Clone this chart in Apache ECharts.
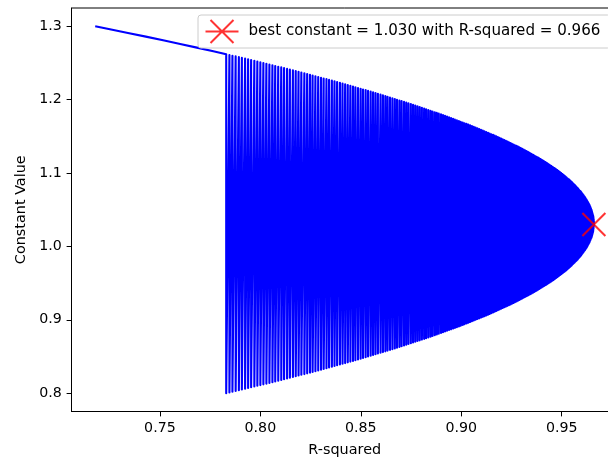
<!DOCTYPE html>
<html><head><meta charset="utf-8">
<script src="https://cdn.jsdelivr.net/npm/echarts@6/dist/echarts.min.js"></script>
<style>html,body{margin:0;padding:0;background:#fff;overflow:hidden;width:608px;height:462px}#c{width:618px;height:462px}</style>
</head><body><div id="c"></div>
<script>
// Constants below the best value (lower branch) and their R-squared
const lowerConstants = [
0.800,0.801,0.802,0.803,0.804,0.805,0.806,0.807,0.808,0.809,
0.810,0.811,0.812,0.813,0.814,0.815,0.816,0.817,0.818,0.819,
0.820,0.821,0.822,0.823,0.824,0.825,0.826,0.827,0.828,0.829,
0.830,0.831,0.832,0.833,0.834,0.835,0.836,0.837,0.838,0.839,
0.840,0.841,0.842,0.843,0.844,0.845,0.846,0.847,0.848,0.849,
0.850,0.851,0.852,0.853,0.854,0.855,0.856,0.857,0.858,0.859,
0.860,0.861,0.862,0.863,0.864,0.865,0.866,0.867,0.868,0.869,
0.870,0.871,0.872,0.873,0.874,0.875,0.876,0.877,0.878,0.879,
0.880,0.881,0.882,0.883,0.884,0.885,0.886,0.887,0.888,0.889,
0.890,0.891,0.892,0.893,0.894,0.895,0.896,0.897,0.898,0.899,
0.900,0.901,0.902,0.903,0.904,0.905,0.906,0.907,0.908,0.909,
0.910,0.911,0.912,0.913,0.914,0.915,0.916,0.917,0.918,0.919,
0.920,0.921,0.922,0.923,0.924,0.925,0.926,0.927,0.928,0.929,
0.930,0.931,0.932,0.933,0.934,0.935,0.936,0.937,0.938,0.939,
0.940,0.941,0.942,0.943,0.944,0.945,0.946,0.947,0.948,0.949,
0.950,0.951,0.952,0.953,0.954,0.955,0.956,0.957,0.958,0.959,
0.960,0.961,0.962,0.963,0.964,0.965,0.966,0.967,0.968,0.969,
0.970,0.971,0.972,0.973,0.974,0.975,0.976,0.977,0.978,0.979,
0.980,0.981,0.982,0.983,0.984,0.985,0.986,0.987,0.988,0.989,
0.990,0.991,0.992,0.993,0.994,0.995,0.996,0.997,0.998,0.999,
1.000,1.001,1.002,1.003,1.004,1.005,1.006,1.007,1.008,1.009,
1.010,1.011,1.012,1.013,1.014,1.015,1.016,1.017,1.018,1.019,
1.020,1.021,1.022,1.023,1.024,1.025,1.026,1.027,1.028,1.029,
1.030];
const lowerRSquared = [
0.7830,0.7846,0.7861,0.7877,0.7893,0.7908,0.7924,0.7939,0.7954,0.7970,
0.7985,0.8000,0.8015,0.8030,0.8045,0.8060,0.8074,0.8089,0.8104,0.8118,
0.8133,0.8147,0.8162,0.8176,0.8190,0.8204,0.8219,0.8233,0.8247,0.8260,
0.8274,0.8288,0.8302,0.8315,0.8329,0.8342,0.8356,0.8369,0.8382,0.8396,
0.8409,0.8422,0.8435,0.8448,0.8461,0.8473,0.8486,0.8499,0.8511,0.8524,
0.8536,0.8549,0.8561,0.8573,0.8585,0.8598,0.8610,0.8622,0.8633,0.8645,
0.8657,0.8669,0.8680,0.8692,0.8703,0.8715,0.8726,0.8737,0.8749,0.8760,
0.8771,0.8782,0.8793,0.8804,0.8815,0.8825,0.8836,0.8847,0.8857,0.8868,
0.8878,0.8888,0.8899,0.8909,0.8919,0.8929,0.8939,0.8949,0.8959,0.8968,
0.8978,0.8988,0.8997,0.9007,0.9016,0.9026,0.9035,0.9044,0.9053,0.9062,
0.9071,0.9080,0.9089,0.9098,0.9107,0.9115,0.9124,0.9133,0.9141,0.9149,
0.9158,0.9166,0.9174,0.9182,0.9190,0.9198,0.9206,0.9214,0.9222,0.9230,
0.9237,0.9245,0.9252,0.9260,0.9267,0.9275,0.9282,0.9289,0.9296,0.9303,
0.9310,0.9317,0.9324,0.9331,0.9337,0.9344,0.9350,0.9357,0.9363,0.9370,
0.9376,0.9382,0.9388,0.9394,0.9400,0.9406,0.9412,0.9418,0.9424,0.9429,
0.9435,0.9440,0.9446,0.9451,0.9457,0.9462,0.9467,0.9472,0.9477,0.9482,
0.9487,0.9492,0.9497,0.9501,0.9506,0.9511,0.9515,0.9520,0.9524,0.9528,
0.9532,0.9537,0.9541,0.9545,0.9549,0.9552,0.9556,0.9560,0.9564,0.9567,
0.9571,0.9574,0.9578,0.9581,0.9584,0.9587,0.9591,0.9594,0.9597,0.9599,
0.9602,0.9605,0.9608,0.9610,0.9613,0.9616,0.9618,0.9620,0.9623,0.9625,
0.9627,0.9629,0.9631,0.9633,0.9635,0.9637,0.9639,0.9640,0.9642,0.9643,
0.9645,0.9646,0.9648,0.9649,0.9650,0.9651,0.9652,0.9653,0.9654,0.9655,
0.9656,0.9657,0.9657,0.9658,0.9658,0.9659,0.9659,0.9659,0.9660,0.9660,
0.9660];
// Constants at and above the best value (upper branch) and their R-squared
const upperConstants = [
1.031,1.032,1.033,1.034,1.035,1.036,1.037,1.038,1.039,
1.040,1.041,1.042,1.043,1.044,1.045,1.046,1.047,1.048,1.049,
1.050,1.051,1.052,1.053,1.054,1.055,1.056,1.057,1.058,1.059,
1.060,1.061,1.062,1.063,1.064,1.065,1.066,1.067,1.068,1.069,
1.070,1.071,1.072,1.073,1.074,1.075,1.076,1.077,1.078,1.079,
1.080,1.081,1.082,1.083,1.084,1.085,1.086,1.087,1.088,1.089,
1.090,1.091,1.092,1.093,1.094,1.095,1.096,1.097,1.098,1.099,
1.100,1.101,1.102,1.103,1.104,1.105,1.106,1.107,1.108,1.109,
1.110,1.111,1.112,1.113,1.114,1.115,1.116,1.117,1.118,1.119,
1.120,1.121,1.122,1.123,1.124,1.125,1.126,1.127,1.128,1.129,
1.130,1.131,1.132,1.133,1.134,1.135,1.136,1.137,1.138,1.139,
1.140,1.141,1.142,1.143,1.144,1.145,1.146,1.147,1.148,1.149,
1.150,1.151,1.152,1.153,1.154,1.155,1.156,1.157,1.158,1.159,
1.160,1.161,1.162,1.163,1.164,1.165,1.166,1.167,1.168,1.169,
1.170,1.171,1.172,1.173,1.174,1.175,1.176,1.177,1.178,1.179,
1.180,1.181,1.182,1.183,1.184,1.185,1.186,1.187,1.188,1.189,
1.190,1.191,1.192,1.193,1.194,1.195,1.196,1.197,1.198,1.199,
1.200,1.201,1.202,1.203,1.204,1.205,1.206,1.207,1.208,1.209,
1.210,1.211,1.212,1.213,1.214,1.215,1.216,1.217,1.218,1.219,
1.220,1.221,1.222,1.223,1.224,1.225,1.226,1.227,1.228,1.229,
1.230,1.231,1.232,1.233,1.234,1.235,1.236,1.237,1.238,1.239,
1.240,1.241,1.242,1.243,1.244,1.245,1.246,1.247,1.248,1.249,
1.250,1.251,1.252,1.253,1.254,1.255,1.256,1.257,1.258,1.259,
1.260,1.261,1.262,
1.266,1.271,1.276,1.281,1.286,1.291,1.296,1.300];
const upperRSquared = [
0.9660,0.9660,0.9660,0.9660,0.9659,0.9659,0.9659,0.9658,0.9658,
0.9657,0.9657,0.9656,0.9655,0.9654,0.9653,0.9652,0.9651,0.9650,0.9649,
0.9648,0.9646,0.9645,0.9643,0.9642,0.9640,0.9639,0.9637,0.9635,0.9633,
0.9631,0.9629,0.9627,0.9625,0.9623,0.9620,0.9618,0.9616,0.9613,0.9610,
0.9608,0.9605,0.9602,0.9599,0.9597,0.9594,0.9591,0.9587,0.9584,0.9581,
0.9578,0.9574,0.9571,0.9567,0.9564,0.9560,0.9556,0.9552,0.9549,0.9545,
0.9541,0.9537,0.9532,0.9528,0.9524,0.9520,0.9515,0.9511,0.9506,0.9501,
0.9497,0.9492,0.9487,0.9482,0.9477,0.9472,0.9467,0.9462,0.9457,0.9451,
0.9446,0.9440,0.9435,0.9429,0.9424,0.9418,0.9412,0.9406,0.9400,0.9394,
0.9388,0.9382,0.9376,0.9370,0.9363,0.9357,0.9350,0.9344,0.9337,0.9331,
0.9324,0.9317,0.9310,0.9303,0.9296,0.9289,0.9282,0.9275,0.9267,0.9260,
0.9252,0.9245,0.9237,0.9230,0.9222,0.9214,0.9206,0.9198,0.9190,0.9182,
0.9174,0.9166,0.9158,0.9149,0.9141,0.9133,0.9124,0.9115,0.9107,0.9098,
0.9089,0.9080,0.9071,0.9062,0.9053,0.9044,0.9035,0.9026,0.9016,0.9007,
0.8997,0.8988,0.8978,0.8968,0.8959,0.8949,0.8939,0.8929,0.8919,0.8909,
0.8899,0.8888,0.8878,0.8868,0.8857,0.8847,0.8836,0.8825,0.8815,0.8804,
0.8793,0.8782,0.8771,0.8760,0.8749,0.8737,0.8726,0.8715,0.8703,0.8692,
0.8680,0.8669,0.8657,0.8645,0.8633,0.8622,0.8610,0.8598,0.8585,0.8573,
0.8561,0.8549,0.8536,0.8524,0.8511,0.8499,0.8486,0.8473,0.8461,0.8448,
0.8435,0.8422,0.8409,0.8396,0.8382,0.8369,0.8356,0.8342,0.8329,0.8315,
0.8302,0.8288,0.8274,0.8260,0.8247,0.8233,0.8219,0.8204,0.8190,0.8176,
0.8162,0.8147,0.8133,0.8118,0.8104,0.8089,0.8074,0.8060,0.8045,0.8030,
0.8015,0.8000,0.7985,0.7970,0.7954,0.7939,0.7924,0.7908,0.7893,0.7877,
0.7861,0.7846,0.7830,
0.7766,0.7684,0.7601,0.7516,0.7430,0.7341,0.7251,0.7178];
const bestConstant = [1.030];
const bestRSquared = [0.966];
const xTickValues = [0.75, 0.80, 0.85, 0.90, 0.95];
const yTickValues = [0.8, 0.9, 1.0, 1.1, 1.2, 1.3];

// Plot order: points sorted by R-squared (upper before lower on ties)
const pts = [];
lowerConstants.forEach((c, i) => pts.push([lowerRSquared[i], c]));
upperConstants.forEach((c, i) => pts.push([upperRSquared[i], c]));
pts.sort((a, b) => (a[0] - b[0]) || (b[1] - a[1]));

const font = 'DejaVu Sans';
const fsTick = 14.2;
const fsName = 14.4;
const fsLegend = 15.1;
const legendName = 'best constant = ' + bestConstant[0].toFixed(3) + ' with R-squared = ' + bestRSquared[0].toFixed(3);

const chart = echarts.init(document.getElementById('c'), null, {renderer: 'canvas', width: 618, height: 462});
chart.setOption({
  animation: false,
  backgroundColor: '#ffffff',
  grid: {left: 71.5, width: 546.5, top: 8, height: 409, show: true, borderColor: '#000', borderWidth: 1, backgroundColor: 'transparent'},
  xAxis: {
    type: 'value', min: 0.706, max: 0.978,
    name: 'R-squared', nameLocation: 'middle', nameGap: 31.5,
    nameTextStyle: {fontFamily: font, fontSize: fsName, color: '#000'},
    axisLine: {show: true, onZero: false, lineStyle: {color: '#000', width: 1}},
    axisTick: {show: true, inside: false, length: 4.9, customValues: xTickValues, lineStyle: {color: '#000', width: 1}},
    axisLabel: {customValues: xTickValues, margin: 9.7, fontFamily: font, fontSize: fsTick, color: '#000', formatter: v => v.toFixed(2)},
    splitLine: {show: false}
  },
  yAxis: {
    type: 'value', min: 0.775, max: 1.325,
    name: 'Constant Value', nameLocation: 'middle', nameGap: 42,
    nameTextStyle: {fontFamily: font, fontSize: fsName, color: '#000'},
    axisLine: {show: true, onZero: false, lineStyle: {color: '#000', width: 1}},
    axisTick: {show: true, inside: false, length: 4.9, customValues: yTickValues, lineStyle: {color: '#000', width: 1}},
    axisLabel: {customValues: yTickValues, margin: 9.7, fontFamily: font, fontSize: fsTick, color: '#000', formatter: v => v.toFixed(1)},
    splitLine: {show: false}
  },
  legend: {
    left: 198, top: 15, orient: 'horizontal', selectedMode: false,
    padding: [2.5, 10, 2.5, 5], itemWidth: 33, itemHeight: 23,
    backgroundColor: 'rgba(255,255,255,0.8)', borderColor: '#cccccc', borderWidth: 1, borderRadius: 3,
    textStyle: {fontFamily: font, fontSize: fsLegend, color: '#000', padding: [0, 0, 0, 5]},
    data: [{name: legendName, icon: 'path://M5,0L28,23M5,23L28,0M0,11.5L33,11.5',
            itemStyle: {color: 'none', borderColor: '#ff0000', borderWidth: 2}}]
  },
  series: [
    {type: 'line', name: 'r2', data: pts, showSymbol: false, symbol: 'none', silent: true, z: 2,
     lineStyle: {color: '#0000ff', width: 2.1, join: 'round'}, itemStyle: {color: '#0000ff'}},
    {type: 'scatter', name: legendName, z: 3, silent: true,
     data: bestRSquared.map((r, i) => [r, bestConstant[i]]),
     symbol: 'path://M0,0L10,10M0,10L10,0', symbolSize: 23,
     itemStyle: {color: 'none', borderColor: '#ff0000', borderWidth: 2}}
  ]
});
</script>
</body></html>
